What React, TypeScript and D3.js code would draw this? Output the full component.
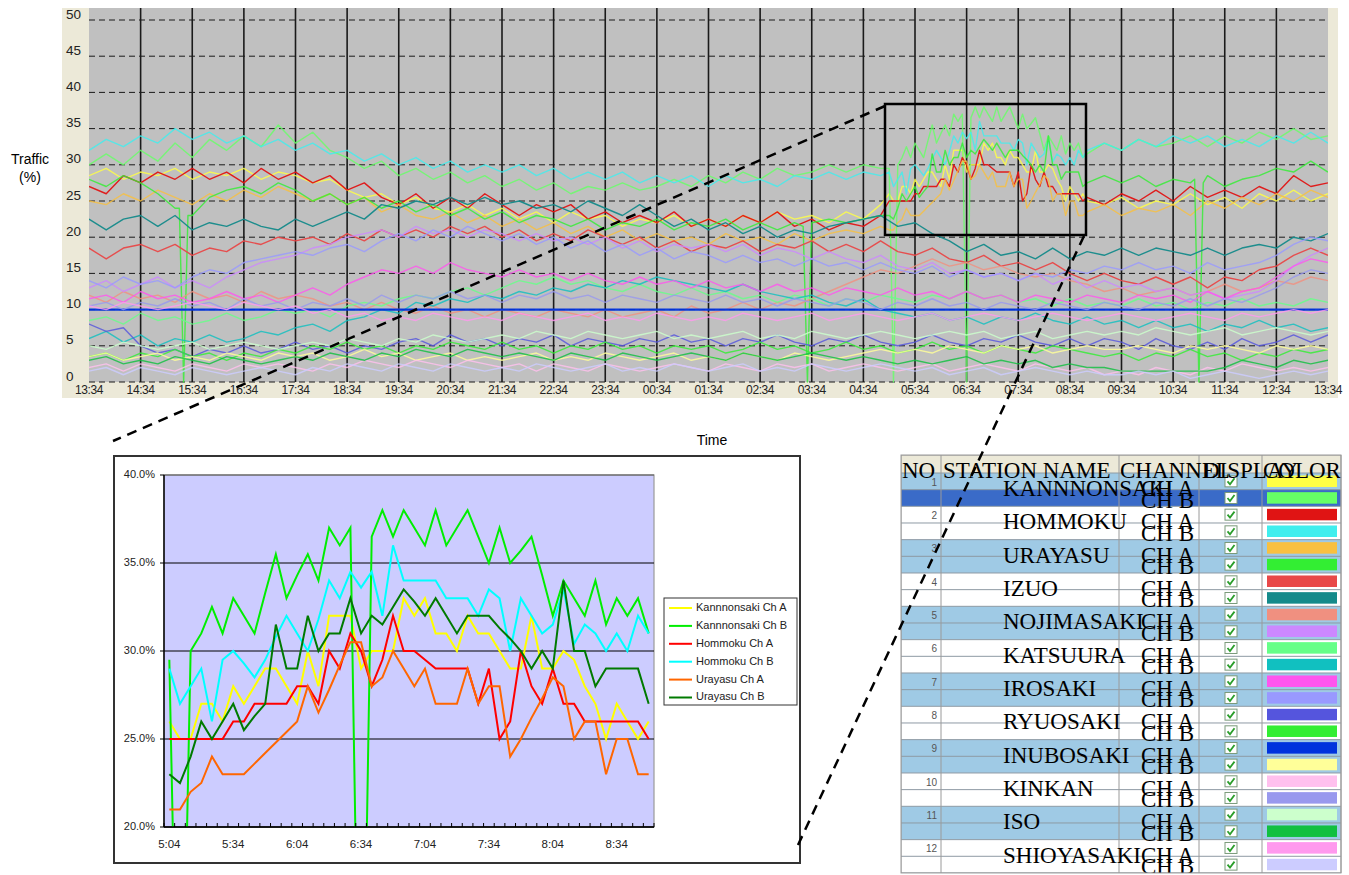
import React from "react";
import * as d3 from "d3";

const SANS = "'Liberation Sans', Arial, Helvetica, sans-serif";
const SERIF = "'Liberation Serif', 'Times New Roman', serif";

// ---------------- Top chart data (24 h, 20-minute samples from 13:34) ----------------
const TOP_TICKS = ["13:34","14:34","15:34","16:34","17:34","18:34","19:34","20:34","21:34","22:34","23:34","00:34","01:34","02:34","03:34","04:34","05:34","06:34","07:34","08:34","09:34","10:34","11:34","12:34","13:34"];
const TOP_Y_TICKS = [0, 5, 10, 15, 20, 25, 30, 35, 40, 45, 50];

const STATIONS = ["KANNNONSAKI","HOMMOKU","URAYASU","IZUO","NOJIMASAKI","KATSUURA","IROSAKI","RYUOSAKI","INUBOSAKI","KINKAN","ISO","SHIOYASAKI"];
const COLOR_A = ["#FFFF44","#E01414","#F8C040","#E84848","#F09080","#66FF88","#FF55EE","#5555DD","#0033DD","#FFC0EE","#CCFFCC","#FF99EE"];
const COLOR_B = ["#66FF66","#40EEEE","#33EE33","#148A8A","#CC88FF","#11C0C0","#9999FF","#33EE33","#FFFF99","#9999EE","#11C040","#CCCCFF"];

const T_KANNNONSAKI_A = [
  28.5, 29.5, 28, 29, 28.5, 29.5, 28, 29, 28.5, 29.5, 28, 29,
  28.5, 27.5, 28, 26.5, 25.5, 26, 24.5, 25.5, 24, 23.5, 24.5, 23,
  24, 22.5, 23.5, 22, 23.5, 22.5, 23, 21.5, 22.5, 22, 23, 21.5,
  22.5, 21.5, 23, 22, 23.5, 22.5, 23, 22, 23.5, 22.5, 24.5, 25,
  28, 29, 28, 29, 33, 31, 31, 32, 29.5, 27, 25, 24.5,
  25.5, 24, 25, 24.5, 26, 24.5, 25.5, 24, 26, 25, 26.5, 25,
  26];
const T_KANNNONSAKI_B = [
  30, 31.5, 30, 32, 30.5, 33, 31, 33.5, 32, 34, 32.5, 35.5,
  33, 34.5, 32, 31, 29.5, 30.5, 28.5, 29.5, 28, 29, 27.5, 28.5,
  27, 28, 26.5, 27.5, 26, 27, 26.5, 27.5, 26.5, 27, 28, 27,
  28.5, 27.5, 29, 28, 29.5, 28.5, 29, 30, 29, 30, 29.5, 30,
  33, 35.5, 34, 37, 38, 36, 35, 36.5, 33, 33, 31.5, 33,
  32, 33.5, 32.5, 33, 34, 32.5, 34, 33, 34.5, 33.5, 35, 33.5,
  34];
const T_HOMMOKU_A = [
  27, 26, 28.5, 27.5, 29, 28, 29.5, 28, 29, 27.5, 29.5, 28,
  29, 27.5, 28.5, 26.5, 27.5, 25.5, 24.5, 26, 24, 25.5, 24, 26,
  24.5, 23, 24.5, 23.5, 24.5, 22.5, 23.5, 22, 23, 22, 23.5, 21.5,
  22.5, 21.5, 23, 22, 23.5, 21.5, 22.5, 21, 22, 21.5, 23, 25,
  26, 27, 27, 30, 30, 29, 29, 28, 27, 26, 25.5, 24.5,
  26, 25, 26.5, 25, 27, 25.5, 26.5, 25.5, 27, 26, 28.5, 27,
  27.5];
const T_HOMMOKU_B = [
  32, 33.5, 32.5, 34, 33, 35, 33.5, 34.5, 33, 34, 32.5, 33.5,
  32, 33, 31.5, 32, 30.5, 31.5, 30, 31, 29.5, 30.5, 29, 30,
  29, 30, 28.5, 29.5, 28, 29, 28, 29, 27.5, 28.5, 27.5, 28.5,
  27, 28.5, 27.5, 28, 27, 28.5, 28, 29, 28, 29, 28.5, 28,
  30, 30.8, 31.8, 33.6, 34, 33, 33.5, 32, 30.5, 31, 32, 33,
  32, 33.5, 32.5, 34, 33, 34, 32.5, 33.5, 32.5, 34, 33, 34.5,
  33];
const T_URAYASU_A = [
  25, 24.5, 26, 25, 26.5, 25.5, 24.5, 26, 25, 26.5, 25.5, 27,
  26, 25, 26, 24.5, 25.5, 23.5, 24.5, 23, 22.5, 23.5, 22, 23,
  21.5, 22.5, 21, 22, 20.5, 21.5, 20, 21, 19.5, 20.5, 19.5, 20,
  19, 20.5, 19.5, 20, 19, 20.5, 19.5, 20.5, 21, 20.5, 21.5, 22,
  23, 24.8, 26.5, 30.5, 29, 27, 28, 26.2, 25, 25, 23.5, 24.5,
  23, 24, 23.5, 24.5, 23, 25, 24, 25.5, 24.5, 26, 25, 26.5,
  25.5];
const T_URAYASU_B = [
  28, 27, 28.5, 27.5, 26, 24, 23, 25.5, 26.5, 27, 26, 27.5,
  26.5, 25, 26, 24.5, 25.5, 24, 25, 23.5, 24.5, 23, 24, 22.5,
  23.5, 22, 23, 22.5, 21.5, 22.5, 21, 22, 21.5, 22.5, 21, 22,
  21.5, 22.5, 21, 22, 21, 22, 21.5, 22.5, 22, 22.5, 23, 24,
  27, 31.5, 30, 31, 33.5, 32, 32, 29, 30, 29, 27.5, 28.5,
  27.5, 28.5, 27, 28, 27.5, 28.5, 27, 28, 28.5, 29.5, 29, 30.5,
  29];
const T_IZUO_A = [
  18.5, 17, 18.5, 19, 18, 19, 17.5, 18.5, 18, 19.5, 19, 20,
  19.5, 20, 19, 20.5, 19.5, 21, 20, 21, 20, 21.5, 20.5, 21.5,
  20, 21, 19.5, 20.5, 19.5, 21, 20, 19, 20, 18.5, 19.5, 18,
  19, 18.5, 19.5, 18, 19, 18.5, 19.5, 18, 19, 18, 19.5, 18,
  17.5, 18.5, 17, 16.5, 17.5, 16, 16.5, 15.5, 16.5, 15, 14, 15,
  14, 13.5, 14.5, 13.5, 14.5, 13, 14.5, 14, 15.5, 16, 17.5, 18.5,
  17.5];
const T_IZUO_B = [
  22.5, 21, 22.5, 23, 21.5, 23, 21, 22, 21.5, 22.5, 21.5, 21,
  22.5, 21.5, 22.5, 23.5, 22.5, 24.5, 24, 25, 24.5, 25.5, 24.5, 25.5,
  24.5, 25, 24, 24.5, 23.5, 25, 24, 23, 24.5, 23, 21.5, 22.5,
  21, 22, 20.5, 21.5, 20, 21, 20.5, 21.5, 22, 22.5, 23, 21.5,
  22, 20.5, 19.5, 18, 19, 17.5, 18, 17, 18.5, 17, 18, 17.5,
  18.5, 17.5, 18.5, 18, 17.5, 18.5, 17.5, 18.5, 19, 18.5, 20, 19.5,
  20.5];
const T_NOJIMASAKI_A = [
  12, 11, 12.5, 11.5, 12, 11, 12.5, 11.5, 12, 11, 12.5, 11.5,
  12, 11.5, 10.5, 11, 10, 11, 10, 9.5, 10.5, 9.5, 10, 9,
  10, 9.5, 9, 10, 9.5, 9, 10, 9, 9.5, 10, 9, 10.5,
  9.5, 10, 11, 10, 11, 10.5, 11.5, 12.5, 13.5, 14.5, 15.5, 15,
  16, 17, 16, 16.5, 15.5, 16, 15, 14.5, 15, 14, 13.5, 12.5,
  13, 12, 12.5, 13, 12, 12.5, 13.5, 12.5, 13, 14, 13.5, 14.5,
  14];
const T_NOJIMASAKI_B = [
  13, 14, 12.5, 13.5, 14.5, 13, 14, 13, 14.5, 15.5, 16.5, 17,
  17.5, 18.5, 19, 20, 20.5, 21, 20, 21.5, 20.5, 21, 20, 21,
  20.5, 19.5, 20.5, 19.5, 20, 19, 20, 18.5, 19.5, 18, 19, 18.5,
  19, 18, 19, 17.5, 18.5, 18, 17, 18, 17, 16.5, 17.5, 16,
  15.5, 16.5, 15, 15.5, 14.5, 15, 14, 15, 13.5, 14.5, 13, 14,
  13, 13.5, 12.5, 13, 12, 12.5, 11.5, 12, 12.5, 14, 16, 17.5,
  18.5];
const T_KATSUURA_A = [
  8.5, 9, 8, 9.5, 8.5, 9, 8, 8.5, 9.5, 8.5, 9, 10,
  9.5, 10, 9, 10.5, 11, 10.5, 11.5, 12, 11.5, 12.5, 13, 12,
  13, 14, 13.5, 14.5, 13.5, 14, 13, 12.5, 13.5, 12.5, 12, 13,
  12, 12.5, 11.5, 12, 11, 12, 11.5, 10.5, 11.5, 11, 12, 11.5,
  11, 12, 11.5, 12.5, 11.5, 12, 11, 11.5, 10.5, 11.5, 10.5, 11,
  10.5, 11.5, 10.5, 11, 10, 11, 10.5, 11.5, 10.5, 11, 10.5, 11.5,
  11];
const T_KATSUURA_B = [
  6, 7, 5.5, 6.5, 5, 6, 5.5, 6.5, 5.5, 6, 7, 6.5,
  7.5, 8, 7, 8.5, 9, 10, 9.5, 11, 10.5, 11.5, 11, 12,
  11.5, 12.5, 12, 13, 12.5, 13.5, 13, 14, 13.5, 14.5, 14, 13.5,
  13, 12.5, 13.5, 12.5, 12, 11.5, 12, 11, 10.5, 11.5, 10, 9.5,
  9, 9.5, 8.5, 9, 8, 9, 8.5, 9.5, 8.5, 8, 9, 8,
  8.5, 7.5, 8.5, 7.5, 8, 7, 8, 7.5, 8.5, 7.5, 8, 7,
  7.5];
const T_IROSAKI_A = [
  11.5, 12, 11, 12.5, 11.5, 12, 11, 11.5, 12.5, 11.5, 12, 11,
  12, 13, 12, 13.5, 14.5, 15.5, 15, 16, 15, 16.5, 15.5, 15,
  14.5, 15.5, 14.5, 15, 14, 15, 14, 13.5, 14.5, 13.5, 14, 13,
  14, 13, 13.5, 12.5, 13.5, 12.5, 13, 12, 13, 12.5, 12, 13,
  12, 12.5, 11.5, 12.5, 11.5, 12, 11, 12, 11.5, 11, 12, 11.5,
  11, 12, 11.5, 12, 11, 12.5, 11.5, 12.5, 13, 14.5, 16, 17,
  16.5];
const T_IROSAKI_B = [
  14, 13, 14.5, 13.5, 14, 13, 14.5, 15.5, 15, 16.5, 17, 17.5,
  18, 17.5, 18.5, 19, 18, 19.5, 20.5, 19.5, 21, 20, 21.5, 20.5,
  19.5, 20.5, 19, 20, 18.5, 19.5, 18, 19, 17.5, 18.5, 17, 18,
  17.5, 16.5, 17.5, 16.5, 17, 16, 17, 16, 16.5, 15.5, 16.5, 15.5,
  15, 16, 14.5, 15.5, 14.5, 15, 14, 15, 14.5, 15.5, 15, 16,
  15.5, 16.5, 15.5, 16, 15, 16.5, 15.5, 16, 16.5, 17.5, 19, 20,
  19.5];
const T_RYUOSAKI_A = [
  8, 7, 7.5, 5, 4, 4.5, 3.5, 4.5, 4, 5, 4, 4.5,
  5.5, 4.5, 5, 4, 5, 4.5, 5.5, 6, 5, 6.5, 5.5, 6,
  5, 6, 5.5, 6.5, 5, 6, 5.5, 5, 6, 5.5, 6.5, 5.5,
  6, 5, 6, 5.5, 6.5, 5.5, 5, 6, 5.5, 6.5, 5.5, 5,
  5.5, 6.5, 5.5, 5, 6, 5.5, 6.5, 5.5, 5, 6, 5, 6,
  5.5, 4.5, 6, 5, 4.5, 5.5, 4.5, 6, 5, 5.5, 6.5, 5.5,
  6.5];
const T_RYUOSAKI_B = [
  3.5, 4, 3, 4, 3.5, 4.5, 3.5, 4, 3, 4, 3.5, 4.5,
  4, 5, 4.5, 5.5, 4.5, 5, 4, 5, 4.5, 5.5, 5, 4.5,
  5.5, 4.5, 5, 4, 5, 4.5, 5.5, 4.5, 5, 4, 5, 4.5,
  5, 4, 4.5, 5.5, 4.5, 5, 4, 4.5, 5.5, 4.5, 5, 4,
  4.5, 5.5, 4.5, 5, 4, 5, 4.5, 4, 5, 4.5, 4, 3.5,
  4, 3, 4, 3.5, 4.5, 3.5, 4, 3, 4, 3.5, 4.5, 4,
  4.5];
const T_INUBOSAKI_A = [10, 10];
const T_INUBOSAKI_B = [
  3.5, 4, 3, 3.5, 4, 3, 3.5, 3, 4, 3.5, 3, 4,
  3.5, 4, 3, 3.5, 4.5, 3.5, 4, 3, 3.5, 4, 3, 3.5,
  3, 3.5, 4, 3, 3.5, 3, 4, 3.5, 3, 3.5, 4, 3,
  3.5, 3, 4, 3.5, 3, 4, 3.5, 3, 3.5, 4, 4.5, 4,
  4.5, 4, 5, 4.5, 4, 5, 4.5, 5, 4, 4.5, 5, 4.5,
  4.5, 5, 4.5, 4, 5, 4.5, 5, 4.5, 4, 5, 4.5, 5,
  4.5];
const T_KINKAN_A = [
  2, 2.5, 1.5, 2.5, 2, 1.5, 2.5, 2, 1.5, 2.5, 2, 2.5,
  2, 1.5, 2.5, 2, 3, 2.5, 2, 3, 2.5, 2, 3, 2.5,
  2, 2.5, 1.5, 2.5, 2, 1.5, 2.5, 2, 1.5, 2, 2.5, 2,
  1.5, 2.5, 2, 1.5, 2.5, 2, 2.5, 1.5, 2, 2.5, 2, 1.5,
  2, 2.5, 1.5, 2, 2.5, 2, 1.5, 2.5, 2, 1.5, 2, 1,
  1.5, 1, 2, 1.5, 1, 2, 1.5, 2.5, 2, 1.5, 2, 1.5,
  2];
const T_KINKAN_B = [
  10.5, 11, 10, 11, 10.5, 11.5, 10.5, 11, 10, 11.5, 10.5, 11,
  10, 11, 10.5, 11.5, 10.5, 12, 11, 12, 11.5, 12.5, 11.5, 12,
  11, 12, 11.5, 12.5, 11.5, 12, 11, 12, 11.5, 11, 12, 11.5,
  11, 12, 11, 11.5, 10.5, 11.5, 11, 10.5, 11.5, 11, 10, 11,
  10.5, 11.5, 10.5, 11, 10, 11, 10.5, 10, 11, 10.5, 10, 11,
  10.5, 10, 11, 10.5, 11.5, 10.5, 11.5, 11, 12, 13, 14.5, 15.5,
  15];
const T_ISO_A = [
  5, 4.5, 5.5, 5, 4.5, 5, 5.5, 4.5, 5, 5.5, 5, 4.5,
  5, 5.5, 5, 6, 5.5, 5, 6, 5.5, 6.5, 6, 5.5, 6,
  6.5, 6, 7, 6.5, 6, 7, 6.5, 6, 6.5, 7, 6, 6.5,
  6, 6.5, 7, 6, 6.5, 6, 7, 6.5, 6, 6.5, 7, 6.5,
  6, 6.5, 7, 6.5, 7, 6, 6.5, 7, 6, 6.5, 7, 6.5,
  7, 6.5, 7.5, 7, 6.5, 7, 7.5, 6.5, 7, 7.5, 7, 6.5,
  7];
const T_ISO_B = [
  3, 3.5, 2.5, 3, 2.5, 3.5, 3, 2.5, 3.5, 3, 2.5, 3,
  3.5, 3, 4, 3.5, 3, 4, 3.5, 4.5, 4, 3.5, 4.5, 4,
  3.5, 4, 3.5, 3, 4, 3.5, 3, 4, 3.5, 3, 3.5, 4,
  3.5, 3, 4, 3.5, 3, 3.5, 4, 3.5, 3, 3.5, 3, 2.5,
  3, 2.5, 3, 3.5, 2.5, 3, 2.5, 3, 2, 2.5, 2, 2,
  1.5, 1.5, 1.5, 1.5, 1.5, 1.5, 2, 3, 2.5, 2, 3, 2.5,
  3];
const T_SHIOYASAKI_A = [
  10.5, 10, 11, 10.5, 10, 10.5, 11, 10.5, 10, 11, 10.5, 10,
  10.5, 9.5, 10, 9, 9.5, 8.5, 9, 8.5, 9.5, 9, 8.5, 9,
  8.5, 9.5, 9, 8.5, 9, 9.5, 8.5, 9, 8.5, 9.5, 9, 8.5,
  9, 8.5, 9.5, 9, 8.5, 9, 9.5, 8.5, 9, 9.5, 9, 8.5,
  9, 9.5, 8.5, 9, 9.5, 9, 8.5, 9, 9.5, 9, 8.5, 9,
  9.5, 9, 8.5, 9, 9.5, 9, 8.5, 9.5, 9, 9.5, 10, 9.5,
  10];
const T_SHIOYASAKI_B = [
  1.5, 2, 1, 2, 1.5, 1, 2, 1.5, 1, 1.5, 2, 1.5,
  1, 2, 1.5, 2.5, 2, 1.5, 2.5, 2, 1.5, 2.5, 2, 1.5,
  2, 1.5, 2.5, 2, 1.5, 2, 2.5, 1.5, 2, 1.5, 2.5, 2,
  1.5, 2, 2.5, 1.5, 2, 1.5, 2.5, 2, 1.5, 2, 2.5, 2,
  1.5, 2, 1, 1.5, 2, 1, 1.5, 2, 1.5, 1, 1.5, 1,
  1, 1.5, 1, 1.5, 0.5, 1, 1.5, 1, 0.5, 1, 1.5, 1,
  1.5];

const TOP_A = [T_KANNNONSAKI_A, T_HOMMOKU_A, T_URAYASU_A, T_IZUO_A, T_NOJIMASAKI_A, T_KATSUURA_A, T_IROSAKI_A, T_RYUOSAKI_A, T_INUBOSAKI_A, T_KINKAN_A, T_ISO_A, T_SHIOYASAKI_A];
const TOP_B = [T_KANNNONSAKI_B, T_HOMMOKU_B, T_URAYASU_B, T_IZUO_B, T_NOJIMASAKI_B, T_KATSUURA_B, T_IROSAKI_B, T_RYUOSAKI_B, T_INUBOSAKI_B, T_KINKAN_B, T_ISO_B, T_SHIOYASAKI_B];

// short signal drop-outs (to 0 %) seen as vertical spikes outside the zoomed window
const DROPOUTS = [
  { station: 2, ch: "B", at: "15:24", before: 24, after: 23 },
  { station: 2, ch: "B", at: "03:29", before: 21.5, after: 22 },
  { station: 2, ch: "B", at: "11:04", before: 28, after: 27.5 },
];

// ---------------- Inset chart data (5-minute samples 5:04 .. 8:49) ----------------
const INSET_START = "5:04";
const INSET_LABELS = ["5:04","5:34","6:04","6:34","7:04","7:34","8:04","8:34"];
const INSET_Y_TICKS = [20, 25, 30, 35, 40];

const I_KANNNONSAKI_A = [26,25,25,27,27,26,28,27,28,29,29,28,27,30,28,32,32,32,29,30,30,30,33,32,33,31,31,30,32,31,31,30,29,29,32,29,29,30,29.5,28,27,25,27,26,25,26];
const I_KANNNONSAKI_B = [29.5,0,30,31,32.5,31,33,32,31,33.3,35.5,33,34.3,35.5,34,37,36,37,0,36.5,38,36.5,38,37,36,38,36,37,38,36.5,35,37,35,35.7,36.5,34.3,32,34,33,32,34,31.5,33,32,33,31];
const I_HOMMOKU_A = [25,25,25,25,25,25,26,26,27,27,27,27,28,28,27,30,29,31,30,28,29.5,32,30,30,29.5,29,29,29,29,27,29,25,26,30,28,27,29,27,27,26,26,26,26,26,26,25];
const I_HOMMOKU_B = [29,27,28,29,26,29.5,30,29.3,28.5,29.5,30.8,32,31,30,31.8,34,33,34.5,33.6,34.5,32,36,34,34,34,34,33,33,33,32,33.5,33,30,33,32,31,31.5,33.5,30.4,31.5,31,30,31,30,32,31];
const I_URAYASU_A = [21,21,22,22.5,24,23,23,23,23.6,24.2,24.8,25.4,26,28,26.5,27.8,29.2,30.5,30.5,28,28.5,30,29,28,29,27,27,27,29,27,28,28,24,25,26.2,27.3,28.5,28,25,26,26,23,25,25,23,23];
const I_URAYASU_B = [23,22.5,24,26,25,26,27,25.5,26.3,27,31.5,29,29,32,30,31,31,33,31,32,31.5,32.5,33.5,32.8,32,33,32,31,32,32,32,31.3,30.7,30,29,30,29,34,30,30,28,29,29,29,29,27];

const INSET_SERIES = [
  { name: "Kannnonsaki Ch A", color: "#FFFF00", values: I_KANNNONSAKI_A, station: 0, ch: "A" },
  { name: "Kannnonsaki Ch B", color: "#00EE00", values: I_KANNNONSAKI_B, station: 0, ch: "B" },
  { name: "Hommoku Ch A", color: "#FF0000", values: I_HOMMOKU_A, station: 1, ch: "A" },
  { name: "Hommoku Ch B", color: "#00FFFF", values: I_HOMMOKU_B, station: 1, ch: "B" },
  { name: "Urayasu Ch A", color: "#FF6600", values: I_URAYASU_A, station: 2, ch: "A" },
  { name: "Urayasu Ch B", color: "#007A00", values: I_URAYASU_B, station: 2, ch: "B" },
];

const TABLE_HEADERS = ["NO", "STATION NAME", "CHANNEL", "DISPLAY", "COLOR"];

type Pt = { t: number; v: number };

const toTopMin = (s: string) => {
  const [h, m] = s.split(":").map(Number);
  return (h * 60 + m - (13 * 60 + 34) + 1440) % 1440;
};
const hm = (s: string) => {
  const [h, m] = s.split(":").map(Number);
  return h * 60 + m;
};

function seriesPoints(
  values: number[],
  drops: { at: string; before: number; after: number }[],
  detail: number[] | null
): Pt[] {
  const n = values.length;
  const dropT = drops.map((d) => toTopMin(d.at));
  const d0 = toTopMin(INSET_START);
  const d1 = detail ? d0 + (detail.length - 1) * 5 : -1;
  let pts: Pt[] = values
    .map((v, i) => ({ t: (i * 1440) / (n - 1), v }))
    .filter((p) => dropT.every((t) => Math.abs(p.t - t) > 5.5))
    .filter((p) => !detail || p.t < d0 - 0.1 || p.t > d1 + 0.1);
  drops.forEach((d, j) => {
    const t = dropT[j];
    pts.push({ t: t - 5, v: d.before }, { t, v: 0 }, { t: t + 5, v: d.after });
  });
  if (detail) detail.forEach((v, i) => pts.push({ t: d0 + i * 5, v }));
  pts.sort((a, b) => a.t - b.t);
  return pts;
}

export default function App() {
  // ---------- top chart scales ----------
  const PL = 89, PR = 1328, PT = 8, PB = 382;
  const x = d3.scaleLinear().domain([0, 1440]).range([PL, PR]);
  const y = d3.scaleLinear().domain([0, 50]).range([PB, 20]);
  const topLine = d3.line<Pt>().x((d) => x(d.t)).y((d) => y(d.v));

  const topSeries: { key: string; color: string; d: string; w: number; op: number }[] = [];
  STATIONS.forEach((s, i) => {
    [["A", TOP_A[i], COLOR_A[i]], ["B", TOP_B[i], COLOR_B[i]]].forEach(([ch, vals, col]: any) => {
      const drops = DROPOUTS.filter((d) => d.station === i && d.ch === ch);
      const det = INSET_SERIES.find((q) => q.station === i && q.ch === ch);
      const strong = (i === 1 && ch === "A") || i === 3 || (i === 8 && ch === "A");
      topSeries.push({
        key: s + ch,
        color: col,
        d: topLine(seriesPoints(vals, drops, det ? det.values : null)) || "",
        w: i === 8 && ch === "A" ? 2.2 : 1.4,
        op: strong ? 0.95 : 0.82,
      });
    });
  });

  // ---------- inset scales ----------
  const IL = 164, IR = 654, IT = 475, IB = 827;
  const nCat = I_KANNNONSAKI_A.length;
  const xb = d3.scaleBand<number>().domain(d3.range(nCat)).range([IL, IR]);
  const xi = (i: number) => (xb(i) as number) + xb.bandwidth() / 2;
  const yi = d3.scaleLinear().domain([20, 40]).range([IB, IT]);
  const insetLine = d3.line<number>().x((_, i) => xi(i)).y((v) => yi(v));
  const fmt = d3.format(".1f");

  // ---------- table layout ----------
  const cols = [901, 941, 1119, 1199, 1262, 1341];
  const headTop = 455, row0 = 473, rowH = 33.33, subH = rowH / 2;
  const tableBottom = row0 + rowH * STATIONS.length;

  return (
    <svg width={1349} height={875} style={{ position: "absolute", left: 0, top: 0, background: "#fff" }}>
      <defs>
        <clipPath id="topClip"><rect x={PL} y={PT} width={PR - PL} height={PB - PT + 1} /></clipPath>
        <clipPath id="insetClip"><rect x={IL} y={IT} width={IR - IL} height={IB - IT} /></clipPath>
        <clipPath id="tableClip"><rect x={cols[0]} y={headTop} width={446} height={tableBottom - headTop} /></clipPath>
      </defs>

      {/* ===== top chart ===== */}
      <rect x={62} y={PT} width={1276} height={390} fill="#ECE9D8" />
      <rect x={PL} y={PT} width={PR - PL} height={PB - PT} fill="#C0C0C0" />
      {TOP_Y_TICKS.map((v) => (
        <line key={"hg" + v} x1={PL} x2={PR} y1={y(v)} y2={y(v)} stroke="#1a1a1a" strokeWidth={1} strokeDasharray="6 4" />
      ))}
      {TOP_TICKS.map((t, i) =>
        i > 0 && i < TOP_TICKS.length - 1 ? (
          <line key={"vg" + i} x1={x(i * 60)} x2={x(i * 60)} y1={PT} y2={PB} stroke="#1a1a1a" strokeWidth={1.6} />
        ) : null
      )}
      <g clipPath="url(#topClip)" fill="none" strokeLinejoin="round">
        {topSeries.map((s) => (
          <path key={s.key} d={s.d} stroke={s.color} strokeWidth={s.w} strokeOpacity={s.op} />
        ))}
      </g>
      {TOP_Y_TICKS.map((v) => (
        <text key={"yl" + v} x={66} y={y(v) - 5} dominantBaseline="middle" fontFamily={SANS} fontSize={13.5} fill="#222">{v}</text>
      ))}
      {TOP_TICKS.map((t, i) => (
        <text key={"xl" + i} x={x(i * 60)} y={391} textAnchor="middle" dominantBaseline="middle" fontFamily={SANS} fontSize={12} letterSpacing={-0.4} fill="#222">{t}</text>
      ))}
      <text x={30} y={160} textAnchor="middle" dominantBaseline="middle" fontFamily={SANS} fontSize={14} fill="#000">Traffic</text>
      <text x={30} y={178} textAnchor="middle" dominantBaseline="middle" fontFamily={SANS} fontSize={14} fill="#000">(%)</text>
      <text x={712} y={441} textAnchor="middle" dominantBaseline="middle" fontFamily={SANS} fontSize={14} fill="#000">Time</text>

      {/* ===== inset chart ===== */}
      <rect x={114} y={456} width={686} height={407} fill="#fff" stroke="#333" strokeWidth={2} />
      <rect x={IL} y={IT} width={IR - IL} height={IB - IT} fill="#CCCCFF" stroke="#999" strokeWidth={1.2} />
      {INSET_Y_TICKS.map((v) => (
        <line key={"ig" + v} x1={IL} x2={IR} y1={yi(v)} y2={yi(v)} stroke={v === 40 ? "#555" : "#000"} strokeWidth={1} />
      ))}
      <g clipPath="url(#insetClip)" fill="none" strokeLinejoin="miter">
        {INSET_SERIES.map((s) => (
          <path key={s.name} d={insetLine(s.values) || ""} stroke={s.color} strokeWidth={2} />
        ))}
      </g>
      <line x1={IL} x2={IL} y1={IT} y2={IB} stroke="#000" strokeWidth={1.5} />
      <line x1={IL} x2={IR} y1={IB} y2={IB} stroke="#000" strokeWidth={1.5} />
      {d3.range(nCat + 1).map((k) => (
        <line key={"it" + k} x1={IL + k * xb.bandwidth()} x2={IL + k * xb.bandwidth()} y1={IB - 4} y2={IB} stroke="#000" strokeWidth={1} />
      ))}
      {INSET_Y_TICKS.map((v) => (
        <line key={"iyt" + v} x1={IL - 4} x2={IL} y1={yi(v)} y2={yi(v)} stroke="#000" strokeWidth={1} />
      ))}
      {INSET_Y_TICKS.map((v) => (
        <text key={"iyl" + v} x={155} y={yi(v)} textAnchor="end" dominantBaseline="middle" fontFamily={SANS} fontSize={11} fill="#222">{fmt(v) + "%"}</text>
      ))}
      {INSET_LABELS.map((l) => (
        <text key={"ixl" + l} x={xi((hm(l) - hm(INSET_START)) / 5)} y={845} textAnchor="middle" dominantBaseline="middle" fontFamily={SANS} fontSize={11.5} fill="#222">{l}</text>
      ))}
      {/* legend */}
      <rect x={664} y={598} width={133} height={107} fill="#fff" stroke="#333" strokeWidth={1} />
      {INSET_SERIES.map((s, k) => (
        <g key={"lg" + k}>
          <line x1={669} x2={692} y1={608 + k * 17.9} y2={608 + k * 17.9} stroke={s.color} strokeWidth={2} />
          <text x={696} y={608 + k * 17.9} dominantBaseline="middle" fontFamily={SANS} fontSize={11} fill="#222">{s.name}</text>
        </g>
      ))}

      {/* ===== station table ===== */}
      <g clipPath="url(#tableClip)">
        <rect x={cols[0]} y={headTop} width={cols[5] - cols[0]} height={row0 - headTop} fill="#ECE9D8" />
        {STATIONS.map((s, i) => {
          const top = row0 + i * rowH;
          const blue = i % 2 === 0;
          return (
            <g key={"row" + i}>
              <rect x={cols[0]} y={top} width={cols[5] - cols[0]} height={rowH} fill={blue ? "#9FCAE5" : "#FFFFFF"} />
              {i === 0 ? <rect x={cols[0]} y={top + subH} width={cols[5] - cols[0]} height={subH} fill="#3A6BC8" /> : null}
            </g>
          );
        })}
        {d3.range(STATIONS.length * 2 + 1).map((j) => (
          <line key={"hr" + j} x1={cols[0]} x2={cols[5]} y1={row0 + j * subH} y2={row0 + j * subH} stroke="#8E9AA4" strokeWidth={1} />
        ))}
        {cols.map((c, j) => (
          <line key={"vc" + j} x1={c} x2={c} y1={headTop} y2={tableBottom} stroke="#9A9A9A" strokeWidth={1} />
        ))}
        <line x1={cols[0]} x2={cols[5]} y1={headTop} y2={headTop} stroke="#9A9A9A" strokeWidth={1} />
        {STATIONS.map((s, i) => {
          const top = row0 + i * rowH;
          return (
            <g key={"cell" + i}>
              {[0, 1].map((j) => {
                const st = top + j * subH;
                const cy = st + subH / 2;
                return (
                  <g key={"sub" + j}>
                    <rect x={1225} y={cy - 5.5} width={12} height={11} fill="#fff" stroke="#7A9A7A" strokeWidth={1} />
                    <path d={`M${1227.5},${cy} L${1230},${cy + 3} L${1234.5},${cy - 3}`} fill="none" stroke="#2A9E2A" strokeWidth={1.8} />
                    <rect x={1267} y={st + 2.5} width={70} height={11.5} fill={j === 0 ? COLOR_A[i] : COLOR_B[i]} />
                  </g>
                );
              })}
              <text x={937} y={top + 10} textAnchor="end" dominantBaseline="middle" fontFamily={SANS} fontSize={10} fill="#555">{i + 1}</text>
              <text x={1003} y={top + 23} fontFamily={SERIF} fontSize={23} fill="#000">{s}</text>
              <text x={1141} y={top + 23} fontFamily={SERIF} fontSize={23} fill="#000">CH A</text>
              <text x={1141} y={top + 34.5} fontFamily={SERIF} fontSize={23} fill="#000">CH B</text>
            </g>
          );
        })}
        {TABLE_HEADERS.map((h, j) => (
          <text key={"th" + j} x={[902, 943, 1120, 1203, 1263][j]} y={478} fontFamily={SERIF} fontSize={23} fill="#000">{h}</text>
        ))}
      </g>
      <rect x={cols[0]} y={headTop} width={cols[5] - cols[0]} height={tableBottom - headTop} fill="none" stroke="#9A9A9A" strokeWidth={1} />

      {/* ===== zoom box + connectors ===== */}
      <rect x={885} y={104} width={201} height={131} fill="none" stroke="#000" strokeWidth={2.5} />
      <line x1={885} y1={106} x2={113} y2={441} stroke="#000" strokeWidth={2.5} strokeDasharray="10 7" />
      <line x1={1084} y1={236} x2={798} y2={845} stroke="#000" strokeWidth={2.5} strokeDasharray="10 7" />
    </svg>
  );
}
